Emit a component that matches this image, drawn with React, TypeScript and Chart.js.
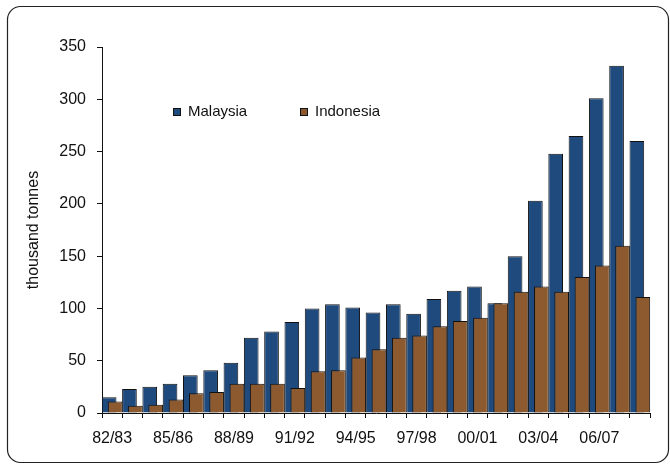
import React, { useEffect, useRef } from 'react';
import { Chart, registerables } from 'chart.js';

Chart.register(...registerables);

const categories = [
  '82/83', '83/84', '84/85', '85/86', '86/87', '87/88', '88/89', '89/90', '90/91',
  '91/92', '92/93', '93/94', '94/95', '95/96', '96/97', '97/98', '98/99', '99/00',
  '00/01', '01/02', '02/03', '03/04', '04/05', '05/06', '06/07', '07/08', '08/09',
];

const malaysia = [
  15, 23, 25, 28, 36, 41, 48, 72, 78, 87, 100, 104, 101, 96, 104, 95, 109, 117,
  121, 105, 150, 203, 248, 265, 301, 332, 260,
];

const indonesia = [
  11, 7, 8, 13, 19, 20, 28, 28, 28, 24, 40, 41, 53, 61, 72, 74, 83, 88,
  91, 105, 116, 121, 116, 130, 141, 160, 111,
];

const seriesNames = ['Malaysia', 'Indonesia'];
const yMin = 0;
const yMax = 350;
const yStep = 50;
const yTitle = 'thousand tonnes';
const labelEvery = 3;

const BLUE = '#1F4A7E';
const BROWN = '#8C5A2E';
const FONT = '"Liberation Sans", Arial, sans-serif';

const framePlugin = {
  id: 'frame',
  beforeDraw(chart: any) {
    const ctx = chart.ctx;
    ctx.save();
    ctx.fillStyle = '#fff';
    ctx.fillRect(0, 0, chart.width, chart.height);
    ctx.beginPath();
    ctx.roundRect(7.5, 6.5, 661, 456, 13);
    ctx.strokeStyle = '#222';
    ctx.lineWidth = 1.2;
    ctx.stroke();
    ctx.restore();
  },
};

let redrawing = false;
const overlapPlugin = {
  id: 'overlapOrder',
  beforeDatasetDraw(chart: any, args: any) {
    if (args.index === 1 && !redrawing) return false;
    return true;
  },
  afterDatasetsDraw(chart: any) {
    const meta = chart.getDatasetMeta(1);
    redrawing = true;
    meta.controller.draw();
    redrawing = false;
  },
};

const legendPlugin = {
  id: 'innerLegend',
  afterDraw(chart: any) {
    const ctx = chart.ctx;
    const items = [
      { text: seriesNames[0], color: BLUE, x: 173 },
      { text: seriesNames[1], color: BROWN, x: 300 },
    ];
    ctx.save();
    ctx.font = `15px ${FONT}`;
    ctx.textBaseline = 'middle';
    ctx.textAlign = 'left';
    for (const it of items) {
      ctx.fillStyle = it.color;
      ctx.fillRect(it.x + 0.5, 108.5, 7, 7);
      ctx.strokeStyle = '#111';
      ctx.lineWidth = 1;
      ctx.strokeRect(it.x + 0.5, 108.5, 7, 7);
      ctx.fillStyle = '#111';
      ctx.fillText(it.text, it.x + 15, 112);
    }
    ctx.restore();
  },
};

export default function App() {
  const ref = useRef<HTMLCanvasElement>(null);
  useEffect(() => {
    document.body.style.margin = '0';
    const chart = new Chart(ref.current as HTMLCanvasElement, {
      type: 'bar',
      data: {
        labels: categories,
        datasets: [
          {
            label: seriesNames[0],
            data: malaysia,
            backgroundColor: BLUE,
            borderColor: '#111',
            borderWidth: 1,
            categoryPercentage: 0.59,
            barPercentage: 2.45,
          },
          {
            label: seriesNames[1],
            data: indonesia,
            backgroundColor: BROWN,
            borderColor: '#111',
            borderWidth: 1,
            categoryPercentage: 0.59,
            barPercentage: 2.45,
          },
        ],
      },
      options: {
        responsive: false,
        animation: false,
        layout: { padding: { left: 20, top: 47, right: 20, bottom: 0 } },
        plugins: {
          legend: { display: false },
          tooltip: { enabled: false },
        },
        scales: {
          x: {
            offset: true,
            grid: {
              display: true,
              drawOnChartArea: false,
              offset: true,
              tickLength: 5,
              color: '#111',
              tickColor: '#111',
            },
            border: { display: true, color: '#111', width: 1 },
            ticks: {
              autoSkip: false,
              maxRotation: 0,
              minRotation: 0,
              padding: 11,
              color: '#111',
              font: { size: 16, family: FONT },
              callback: (_v: any, i: number) => (i % labelEvery === 0 ? categories[i] : ''),
            },
            afterFit: (s: any) => {
              s.height = 51;
            },
          },
          y: {
            min: yMin,
            max: yMax,
            grid: {
              display: true,
              drawOnChartArea: false,
              tickLength: 5,
              color: '#111',
              tickColor: '#111',
            },
            border: { display: true, color: '#111', width: 1 },
            ticks: {
              stepSize: yStep,
              padding: 11,
              color: '#111',
              font: { size: 16, family: FONT },
            },
            title: {
              display: true,
              text: yTitle,
              color: '#111',
              font: { size: 16, family: FONT },
            },
            afterFit: (s: any) => {
              s.width = 82;
            },
          },
        },
      },
      plugins: [framePlugin, overlapPlugin, legendPlugin],
    });
    return () => chart.destroy();
  }, []);
  return (
    <div style={{ width: 670, height: 464 }}>
      <canvas ref={ref} width={670} height={464} style={{ display: 'block' }} />
    </div>
  );
}
